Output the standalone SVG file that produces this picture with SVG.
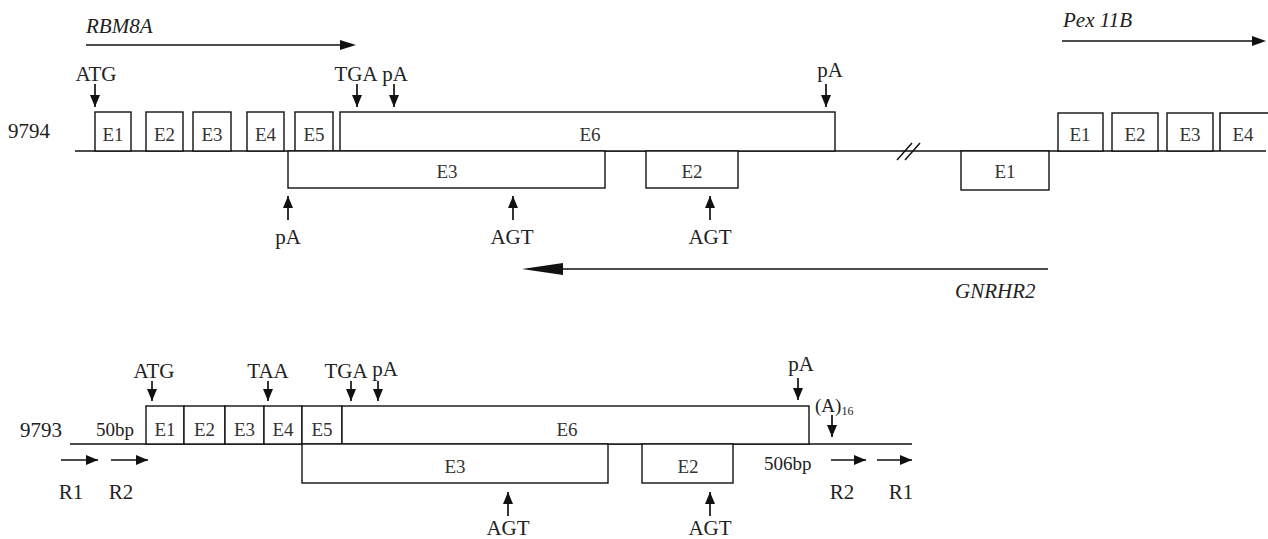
<svg xmlns="http://www.w3.org/2000/svg" width="1268" height="539" viewBox="0 0 1268 539">
<style>
.t{font-family:"Liberation Serif","Times New Roman",serif;font-size:21px;fill:#222}
.e{font-family:"Liberation Serif","Times New Roman",serif;font-size:19px;fill:#333;text-anchor:middle}
.c{text-anchor:middle}
.i{font-style:italic}
.ln{stroke:#111;stroke-width:1.5;fill:none}
.bx{stroke:#111;stroke-width:1.4;fill:#fff}
.ar{stroke:#111;stroke-width:1.7;fill:none;marker-end:url(#ah)}
</style>
<defs>
<marker id="ah" markerUnits="userSpaceOnUse" markerWidth="12" markerHeight="11" refX="12" refY="5.5" orient="auto">
<path d="M0,0.5 L12,5.5 L0,10.5 z" fill="#111"/>
</marker>
</defs>
<rect width="1268" height="539" fill="#fff"/>

<g id="connectors">
<line class="ln" x1="75" y1="151" x2="1266" y2="151"/>
<line class="ln" x1="897" y1="160" x2="912" y2="143"/>
<line class="ln" x1="905" y1="160" x2="920" y2="143"/>
<line class="ln" x1="86" y1="45" x2="342" y2="45"/>
<path d="M340,40 L356,45 L340,50 z" fill="#111"/>
<line class="ln" x1="1062" y1="41" x2="1254" y2="41"/>
<path d="M1252,36 L1266,41 L1252,46 z" fill="#111"/>
<line class="ln" x1="560" y1="269" x2="1048" y2="269"/>
<path d="M522,269 L563,263 L563,275 z" fill="#111"/>
<line class="ar" x1="95" y1="84" x2="95" y2="107"/>
<line class="ar" x1="357" y1="84" x2="357" y2="107"/>
<line class="ar" x1="394" y1="84" x2="394" y2="107"/>
<line class="ar" x1="826" y1="84" x2="826" y2="107"/>
<line class="ar" x1="288" y1="220" x2="288" y2="196"/>
<line class="ar" x1="513" y1="220" x2="513" y2="196"/>
<line class="ar" x1="710" y1="220" x2="710" y2="196"/>

<line class="ln" x1="70" y1="444" x2="912" y2="444"/>
<line class="ar" x1="152" y1="381" x2="152" y2="401"/>
<line class="ar" x1="268" y1="381" x2="268" y2="401"/>
<line class="ar" x1="351" y1="381" x2="351" y2="401"/>
<line class="ar" x1="378" y1="381" x2="378" y2="401"/>
<line class="ar" x1="798" y1="378" x2="798" y2="400"/>
<line class="ar" x1="832" y1="415" x2="832" y2="437"/>
<line class="ar" x1="508" y1="516" x2="508" y2="492"/>
<line class="ar" x1="710" y1="516" x2="710" y2="492"/>
<line class="ar" x1="61" y1="460" x2="98" y2="460"/>
<line class="ar" x1="111" y1="460" x2="148" y2="460"/>
<line class="ar" x1="831" y1="460" x2="866" y2="460"/>
<line class="ar" x1="877" y1="460" x2="912" y2="460"/>
</g>

<g id="top-E1"><rect class="bx" x="95" y="112" width="36" height="39"/><text class="e" x="113" y="141">E1</text></g>
<g id="top-E2"><rect class="bx" x="146" y="112" width="37" height="39"/><text class="e" x="164.5" y="141">E2</text></g>
<g id="top-E3"><rect class="bx" x="193" y="112" width="38" height="39"/><text class="e" x="212" y="141">E3</text></g>
<g id="top-E4"><rect class="bx" x="247" y="112" width="37" height="39"/><text class="e" x="265.5" y="141">E4</text></g>
<g id="top-E5"><rect class="bx" x="295" y="112" width="38" height="39"/><text class="e" x="314" y="141">E5</text></g>
<g id="top-E6"><rect class="bx" x="340" y="112" width="495" height="39"/><text class="e" x="590" y="141">E6</text></g>
<g id="top-GN-E3"><rect class="bx" x="288" y="151" width="317" height="37"/><text class="e" x="447" y="178">E3</text></g>
<g id="top-GN-E2"><rect class="bx" x="646" y="151" width="92" height="37"/><text class="e" x="692" y="178">E2</text></g>
<g id="top-GN-E1"><rect class="bx" x="961" y="151" width="88" height="39"/><text class="e" x="1005" y="178">E1</text></g>
<g id="pex-E1"><rect class="bx" x="1058" y="113" width="45" height="38"/><text class="e" x="1080" y="141">E1</text></g>
<g id="pex-E2"><rect class="bx" x="1112" y="113" width="46" height="38"/><text class="e" x="1135" y="141">E2</text></g>
<g id="pex-E3"><rect class="bx" x="1167" y="113" width="46" height="38"/><text class="e" x="1190" y="141">E3</text></g>
<g id="pex-E4"><path class="ln" d="M1220,151 V113 H1270"/><text class="e" x="1243" y="141">E4</text></g>

<g id="top-labels">
<text class="t i" x="86" y="33">RBM8A</text>
<text class="t i" x="1063" y="27">Pex 11B</text>
<text class="t c" x="96" y="81">ATG</text>
<text class="t c" x="356" y="81">TGA</text>
<text class="t c" x="395" y="81">pA</text>
<text class="t c" x="830" y="77">pA</text>
<text class="t" x="8" y="138">9794</text>
<text class="t c" x="288" y="244">pA</text>
<text class="t c" x="512" y="244">AGT</text>
<text class="t c" x="710" y="244">AGT</text>
<text class="t i" x="955" y="298">GNRHR2</text>
</g>

<g id="bot-E1"><rect class="bx" x="146" y="406" width="38" height="38"/><text class="e" x="165" y="436">E1</text></g>
<g id="bot-E2"><rect class="bx" x="184" y="406" width="41" height="38"/><text class="e" x="204.5" y="436">E2</text></g>
<g id="bot-E3"><rect class="bx" x="225" y="406" width="39" height="38"/><text class="e" x="244.5" y="436">E3</text></g>
<g id="bot-E4"><rect class="bx" x="264" y="406" width="38" height="38"/><text class="e" x="283" y="436">E4</text></g>
<g id="bot-E5"><rect class="bx" x="302" y="406" width="40" height="38"/><text class="e" x="322" y="436">E5</text></g>
<g id="bot-E6"><rect class="bx" x="342" y="406" width="467" height="38"/><text class="e" x="567" y="436">E6</text></g>
<g id="bot-GN-E3"><rect class="bx" x="302" y="444" width="306" height="39"/><text class="e" x="455" y="473">E3</text></g>
<g id="bot-GN-E2"><rect class="bx" x="642" y="444" width="91" height="39"/><text class="e" x="688" y="473">E2</text></g>

<g id="bottom-labels">
<text class="t" x="20" y="437">9793</text>
<text class="t" x="96" y="436" style="font-size:19px">50bp</text>
<text class="t c" x="154" y="378">ATG</text>
<text class="t c" x="268" y="378">TAA</text>
<text class="t c" x="346" y="378">TGA</text>
<text class="t c" x="385" y="376">pA</text>
<text class="t c" x="801" y="371">pA</text>
<text class="t" x="815" y="412" style="font-size:19px">(A)<tspan dy="3" style="font-size:12px">16</tspan></text>
<text class="t" x="764" y="470" style="font-size:19px">506bp</text>
<text class="t c" x="71" y="499">R1</text>
<text class="t c" x="121" y="499">R2</text>
<text class="t c" x="842" y="499">R2</text>
<text class="t c" x="901" y="499">R1</text>
<text class="t c" x="508" y="535">AGT</text>
<text class="t c" x="710" y="535">AGT</text>
</g>
</svg>
